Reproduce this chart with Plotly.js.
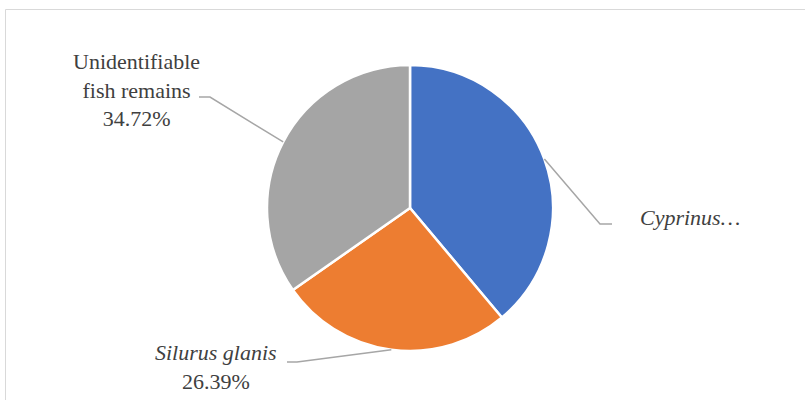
<!DOCTYPE html>
<html>
<head>
<meta charset="utf-8">
<script src="https://cdn.plot.ly/plotly-3.0.1.min.js"></script>
<style>html,body{margin:0;padding:0;background:#fff;}#chart{width:805px;height:400px;}</style>
</head>
<body>
<div id="chart"></div>
<script>
// Data
const categories = ["Cyprinus\u2026", "Silurus glanis", "Unidentifiable fish remains"];
const labelTexts = ["<i>Cyprinus\u2026</i>", "<i>Silurus glanis</i><br>26.39%", "Unidentifiable<br>fish remains<br>34.72%"];
const values = [38.89, 26.39, 34.72];
const colors = ["#4472C4", "#ED7D31", "#A5A5A5"];

// Layout (pixels)
const W = 805, H = 400;
const cx = 410, cy = 208, R = 143;
const px = x => x / W;
const py = y => 1 - y / H;

// label placement: elbow, end of leader, text anchor
const labelLayout = [
  {elbow: [600, 224], end: [612, 224], text: [638, 217], xanchor: "left"},
  {elbow: [297, 362], end: [287, 362], text: [216, 367], xanchor: "center"},
  {elbow: [210, 97],  end: [199, 97],  text: [136, 90],  xanchor: "center"}
];

const total = values.reduce((a, b) => a + b, 0);
let cum = 0;
const shapes = [];
const annotations = [];
values.forEach((v, i) => {
  const mid = (cum + v / 2) / total * 2 * Math.PI;
  cum += v;
  const ex = cx + R * Math.sin(mid);
  const ey = cy - R * Math.cos(mid);
  const L = labelLayout[i];
  shapes.push({
    type: "path", xref: "paper", yref: "paper",
    path: `M ${px(ex)} ${py(ey)} L ${px(L.elbow[0])} ${py(L.elbow[1])} L ${px(L.end[0])} ${py(L.end[1])}`,
    line: {color: "#A6A6A6", width: 1.5}
  });
  annotations.push({
    xref: "paper", yref: "paper",
    x: px(L.text[0]), y: py(L.text[1]),
    xanchor: L.xanchor, yanchor: "middle",
    text: labelTexts[i], showarrow: false,
    font: {family: "Liberation Serif", size: 22, color: "#404040"}
  });
});

// frame
shapes.push({
  type: "rect", xref: "paper", yref: "paper",
  x0: px(5.5), x1: px(812), y0: py(9.5), y1: py(410),
  line: {color: "#D9D9D9", width: 1}
});

const trace = {
  type: "pie",
  labels: categories,
  values: values,
  sort: false,
  direction: "clockwise",
  rotation: 0,
  textinfo: "none",
  marker: {colors: colors, line: {color: "#FFFFFF", width: 2.5}},
  domain: {x: [px(cx - R), px(cx + R)], y: [py(cy + R), py(cy - R)]},
  showlegend: false
};

const layout = {
  width: W, height: H,
  margin: {l: 0, r: 0, t: 0, b: 0},
  showlegend: false,
  shapes: shapes,
  annotations: annotations
};

Plotly.newPlot("chart", [trace], layout, {displayModeBar: false, staticPlot: true});
</script>
</body>
</html>
